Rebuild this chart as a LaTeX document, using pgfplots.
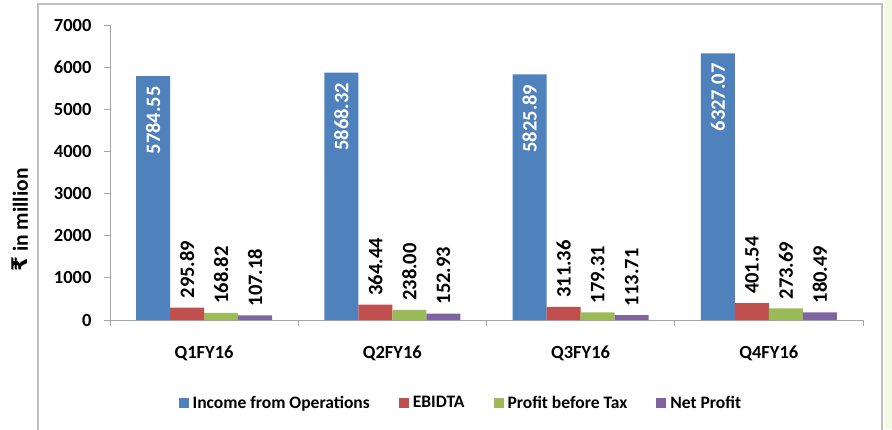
\documentclass[border=0pt]{standalone}
\usepackage{pgfplots}
\pgfplotsset{compat=1.18}
\usepackage{fontspec}
\setmainfont{Carlito}
\newfontfamily\dejavu{DejaVu Sans}
\definecolor{cblue}{HTML}{4F81BD}
\definecolor{cred}{HTML}{C0504D}
\definecolor{cgreen}{HTML}{9BBB59}
\definecolor{cpurple}{HTML}{8064A2}
\definecolor{bggreen}{HTML}{F2FAE6}
\definecolor{framegray}{HTML}{BFBFBF}
\definecolor{axisgray}{HTML}{A6A6A6}
\begin{document}
\begin{tikzpicture}[x=1pt,y=1pt]
\useasboundingbox (-110,-109) rectangle (782,320);
\fill[bggreen] (775,-109) rectangle (782,320);
\draw[framegray, line width=1.2pt] (-72,-115) -- (-72,316) -- (772,316) -- (772,-115);
\begin{axis}[
  at={(0,0)}, anchor=south west,
  width=753pt, height=295pt, scale only axis,
  xmin=0.5, xmax=4.5, ymin=0, ymax=7000,
  axis x line=bottom, axis y line=left,
  axis line style={-, draw=axisgray, line width=0.9pt},
  tick style={draw=axisgray, line width=0.9pt},
  tick align=outside,
  major tick length=6pt,
  ytick={0,1000,...,7000},
  xtick={0.5,1.5,2.5,3.5,4.5}, xticklabels={},
  extra x ticks={1,2,3,4},
  extra x tick labels={Q1FY16,Q2FY16,Q3FY16,Q4FY16},
  extra x tick style={major tick length=0pt, xticklabel style={yshift=-22pt}},
  /pgf/number format/1000 sep={},
  /pgf/number format/assume math mode=true,
  scaled y ticks=false,
  ticklabel style={font=\fontsize{18.5}{21}\selectfont\bfseries},
  yticklabel style={xshift=-9pt},
  ylabel={{\dejavu\bfseries ₹} in million},
  ylabel style={at={(rel axis cs:-0.1195,0.339)}, anchor=center, font=\fontsize{21.5}{24}\selectfont\bfseries},
  ybar=0pt, bar width=34pt,
  point meta=explicit symbolic,
  nodes near coords,
  every node near coord/.append style={rotate=90, anchor=west, inner xsep=9pt, font=\fontsize{20.5}{23}\selectfont\bfseries, black},
  legend columns=4,
  legend style={at={(0.466,-0.281)}, anchor=center, draw=none, fill=none,
    font=\fontsize{17.5}{20}\selectfont\bfseries,
    /tikz/every even column/.append style={column sep=27pt},
    /tikz/every odd column/.append style={column sep=2pt}},
  legend image code/.code={\fill[#1] (0pt,-5pt) rectangle (10pt,5pt);},
]
\addplot[fill=cblue, draw=none, every node near coord/.append style={anchor=east, white, inner xsep=10pt}] coordinates {(1,5784.55)[5784.55] (2,5868.32)[5868.32] (3,5825.89)[5825.89] (4,6327.07)[6327.07]};
\addplot[fill=cred, draw=none] coordinates {(1,295.89)[295.89] (2,364.44)[364.44] (3,311.36)[311.36] (4,401.54)[401.54]};
\addplot[fill=cgreen, draw=none] coordinates {(1,168.82)[168.82] (2,238.00)[238.00] (3,179.31)[179.31] (4,273.69)[273.69]};
\addplot[fill=cpurple, draw=none] coordinates {(1,107.18)[107.18] (2,152.93)[152.93] (3,113.71)[113.71] (4,180.49)[180.49]};
\legend{Income from Operations, EBIDTA, Profit before Tax, Net Profit}
\end{axis}
\end{tikzpicture}
\end{document}
